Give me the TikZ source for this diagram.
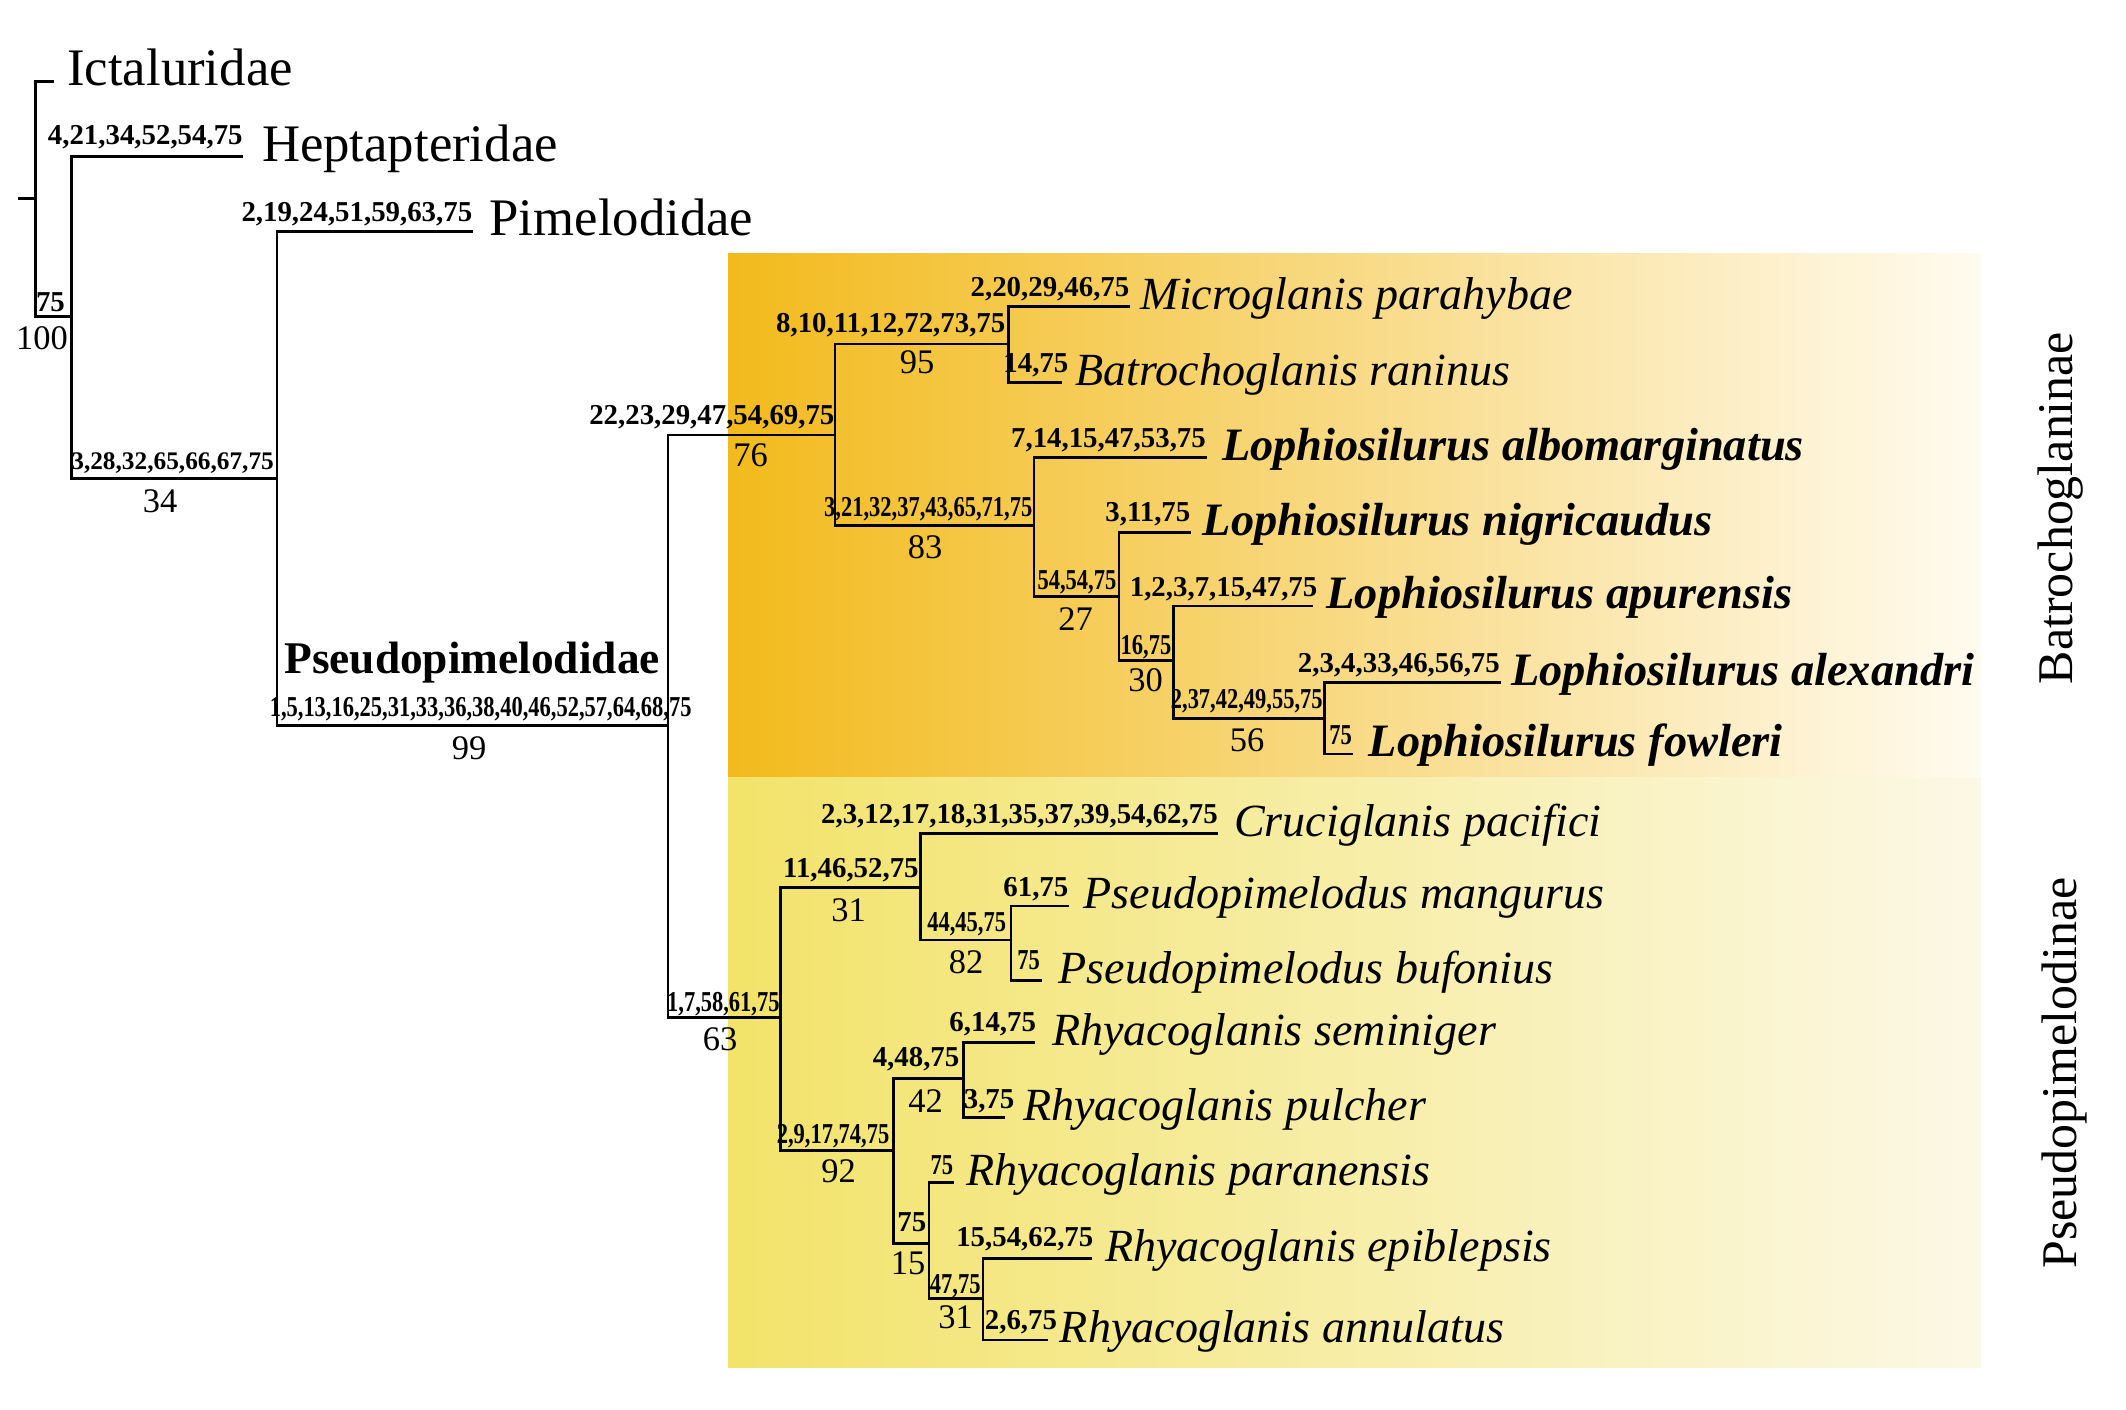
\documentclass[tikz,border=0pt]{standalone}
\usepackage{fontspec}
\setmainfont{Liberation Serif}
\newfontfamily\narrowfont[FakeStretch=0.78]{Liberation Serif}
\usepackage{tikz}
\usetikzlibrary{calc}
\definecolor{batroL}{RGB}{242,186,28}
\definecolor{batroR}{RGB}{255,251,240}
\definecolor{pseudoL}{RGB}{242,227,106}
\definecolor{pseudoR}{RGB}{252,248,230}

\begin{document}
\begin{tikzpicture}[x=0.01cm, y=-0.01cm,
    branch/.style={line width=0.75pt},
    fam/.style={anchor=base west, inner sep=0pt, font=\fontsize{15}{18}\selectfont},
    taxon/.style={anchor=base west, inner sep=0pt, font=\fontsize{13.1}{16}\selectfont\itshape},
    boldtaxon/.style={anchor=base west, inner sep=0pt, font=\fontsize{13.2}{16}\selectfont\bfseries\itshape},
    syn/.style={anchor=base east, inner sep=0pt, font=\fontsize{8.2}{10}\selectfont\bfseries},
    synn/.style={anchor=base east, inner sep=0pt, font=\fontsize{8.2}{10}\selectfont\narrowfont\bfseries},
    bs/.style={inner sep=0pt, font=\fontsize{9.8}{12}\selectfont},
    clade/.style={rotate=90, inner sep=0pt, font=\fontsize{14.2}{17}\selectfont}]

  \useasboundingbox (0,0) rectangle (2126,1410);

  % subfamily panels
  \shade[left color=batroL, right color=batroR] (728,254) rectangle (1981,778);
  \shade[left color=pseudoL, right color=pseudoR] (728,778) rectangle (1981,1368);

  % nodes (x = vertical line, y = branch)
  \coordinate (base) at (18.4,198.3);
  \coordinate (root) at (35.4,198.3);
  \coordinate (n100) at (71.2,316.7);
  \coordinate (n34)  at (276.9,478.3);
  \coordinate (n99)  at (668,725.7);
  \coordinate (n76)  at (835.1,435);
  \coordinate (n95)  at (1008.6,344);
  \coordinate (n83)  at (1034,525.7);
  \coordinate (n27)  at (1119,596.7);
  \coordinate (n30)  at (1173.5,660.7);
  \coordinate (n56)  at (1324.7,718.3);
  \coordinate (n63)  at (780.3,1017.7);
  \coordinate (n31a) at (920.6,887.3);
  \coordinate (n82)  at (1011,940);
  \coordinate (n92)  at (893.2,1150.7);
  \coordinate (n42)  at (963.3,1078.3);
  \coordinate (n15)  at (929,1243.3);
  \coordinate (n31b) at (983.1,1298.3);

  % tips
  \coordinate (ict)   at (54,81.7);
  \coordinate (hep)   at (243.3,156.7);
  \coordinate (pim)   at (472.9,231.7);
  \coordinate (micro) at (1130,306.7);
  \coordinate (batro) at (1062,382.3);
  \coordinate (albo)  at (1206.5,457.3);
  \coordinate (nigri) at (1191,532.3);
  \coordinate (apur)  at (1312.8,606);
  \coordinate (alex)  at (1500.5,682.3);
  \coordinate (fowl)  at (1353,754);
  \coordinate (cruc)  at (1218.4,833.3);
  \coordinate (mang)  at (1069,906);
  \coordinate (bufo)  at (1041.8,980.7);
  \coordinate (semi)  at (1035.4,1042.3);
  \coordinate (pulc)  at (1005.4,1117.7);
  \coordinate (para)  at (954.4,1182.3);
  \coordinate (epib)  at (1091.5,1258.3);
  \coordinate (annu)  at (1048.2,1340);

  % branches
  \draw[branch] (base) -- (root);
  \foreach \p/\c in {root/ict, root/n100, n100/hep, n100/n34, n34/pim, n34/n99,
      n99/n76, n99/n63, n76/n95, n76/n83, n95/micro, n95/batro,
      n83/albo, n83/n27, n27/nigri, n27/n30, n30/apur, n30/n56,
      n56/alex, n56/fowl, n63/n31a, n63/n92, n31a/cruc, n31a/n82,
      n82/mang, n82/bufo, n92/n42, n92/n15, n42/semi, n42/pulc,
      n15/para, n15/n31b, n31b/epib, n31b/annu}
    \draw[branch] (\p) |- (\c);

  % outgroup families
  \node[fam] (ictL) at ($(ict)+(12.6,4)$) {Ictaluridae};
  \node[fam] (hepL) at ($(hep)+(18,5)$) {Heptapteridae};
  \node[fam] (pimL) at ($(pim)+(16,4)$) {Pimelodidae};
  \node[anchor=base west, inner sep=0pt, font=\fontsize{12.9}{16}\selectfont\bfseries]
    (pseudoL) at (283.6,673.3) {Pseudopimelodidae};

  % species
  \node[taxon] (microL) at ($(micro)+(10,3)$) {Microglanis parahybae};
  \node[taxon] (batroL) at ($(batro)+(13,3)$) {Batrochoglanis raninus};
  \node[boldtaxon] (alboL) at ($(albo)+(15,3)$) {Lophiosilurus albomarginatus};
  \node[boldtaxon] (nigriL) at ($(nigri)+(11,3)$) {Lophiosilurus nigricaudus};
  \node[boldtaxon] (apurL) at ($(apur)+(13,3)$) {Lophiosilurus apurensis};
  \node[boldtaxon] (alexL) at ($(alex)+(10,3)$) {Lophiosilurus alexandri};
  \node[boldtaxon] (fowlL) at ($(fowl)+(15,3)$) {Lophiosilurus fowleri};
  \node[taxon] (crucL) at ($(cruc)+(15,3)$) {Cruciglanis pacifici};
  \node[taxon] (mangL) at ($(mang)+(14,3)$) {Pseudopimelodus mangurus};
  \node[taxon] (bufoL) at ($(bufo)+(16,3)$) {Pseudopimelodus bufonius};
  \node[taxon] (semiL) at ($(semi)+(16,3)$) {Rhyacoglanis seminiger};
  \node[taxon] (pulcL) at ($(pulc)+(17,3)$) {Rhyacoglanis pulcher};
  \node[taxon] (paraL) at ($(para)+(11,3)$) {Rhyacoglanis paranensis};
  \node[taxon] (epibL) at ($(epib)+(13,3)$) {Rhyacoglanis epiblepsis};
  \node[taxon] (annuL) at ($(annu)+(11,3)$) {Rhyacoglanis annulatus};

  % synapomorphies
  \node[syn, anchor=base] (s100) at (50.5,312) {75};
  \node[syn] (sHep) at (243.3,145) {4,21,34,52,54,75};
  \node[syn, font=\fontsize{7.2}{9}\selectfont\bfseries] (s34) at (274.6,470) {3,28,32,65,66,67,75};
  \node[syn] (sPim) at (472.9,222) {2,19,24,51,59,63,75};
  \node[synn] (s99) at (692.2,716.7) {1,5,13,16,25,31,33,36,38,40,46,52,57,64,68,75};
  \node[syn] (s76) at (835.1,425) {22,23,29,47,54,69,75};
  \node[syn] (s95) at (1006,333) {8,10,11,12,72,73,75};
  \node[syn] (sMicro) at (1130,297) {2,20,29,46,75};
  \node[syn] (sBatro) at (1069,373) {14,75};
  \node[synn] (s83) at (1033,517) {3,21,32,37,43,65,71,75};
  \node[syn] (sAlbo) at (1206.5,448) {7,14,15,47,53,75};
  \node[syn] (sNigri) at (1191,522) {3,11,75};
  \node[synn] (s27) at (1117,590) {54,54,75};
  \node[syn] (sApur) at (1318,597) {1,2,3,7,15,47,75};
  \node[synn] (s30) at (1172,655) {16,75};
  \node[synn] (s56) at (1323.4,708.3) {2,37,42,49,55,75};
  \node[syn] (sAlex) at (1500.5,673) {2,3,4,33,46,56,75};
  \node[synn] (sFowl) at (1352.6,745) {75};
  \node[synn] (s63) at (780.3,1011.7) {1,7,58,61,75};
  \node[syn] (s31a) at (919.3,878) {11,46,52,75};
  \node[syn] (sCruc) at (1218.4,823.3) {2,3,12,17,18,31,35,37,39,54,62,75};
  \node[synn] (s82) at (1006.7,931.7) {44,45,75};
  \node[syn] (sMang) at (1069,896.7) {61,75};
  \node[synn] (sBufo) at (1040.5,969.3) {75};
  \node[syn] (s42) at (960,1066.7) {4,48,75};
  \node[syn] (sSemi) at (1036.7,1031.7) {6,14,75};
  \node[syn] (sPulc) at (1015,1108.3) {3,75};
  \node[synn] (s92) at (890,1143.3) {2,9,17,74,75};
  \node[syn] (s15) at (927,1231.7) {75};
  \node[synn] (sPara) at (953.8,1175) {75};
  \node[synn] (s31b) at (981.2,1293.3) {47,75};
  \node[syn] (sEpib) at (1094,1246.7) {15,54,62,75};
  \node[syn] (sAnnu) at (1057.7,1330) {2,6,75};

  % bootstrap
  \node[bs] (b100) at (42,338.5) {100};
  \node[bs] (b34) at (160,501) {34};
  \node[bs] (b99) at (469,748.5) {99};
  \node[bs] (b76) at (750.5,455) {76};
  \node[bs] (b95) at (917,362.5) {95};
  \node[bs] (b83) at (925,547.5) {83};
  \node[bs] (b27) at (1075.5,619) {27};
  \node[bs] (b30) at (1145.5,680.5) {30};
  \node[bs] (b56) at (1247,740) {56};
  \node[bs] (b63) at (720,1039) {63};
  \node[bs] (b31a) at (848.5,910) {31};
  \node[bs] (b82) at (966,962.5) {82};
  \node[bs] (b42) at (925.5,1101) {42};
  \node[bs] (b92) at (838.7,1171) {92};
  \node[bs] (b15) at (908,1263.4) {15};
  \node[bs] (b31b) at (955.6,1317.5) {31};

  % subfamilies
  \node[clade] (batroC) at (2061,508) {Batrochoglaninae};
  \node[clade] (pseudoC) at (2064,1073) {Pseudopimelodinae};

\end{tikzpicture}
\end{document}
